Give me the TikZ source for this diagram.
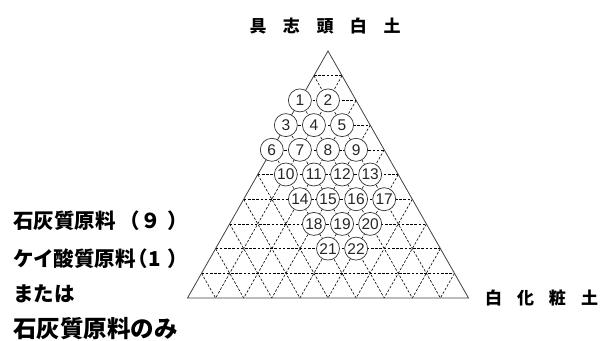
\documentclass[tikz,border=0pt]{standalone}
\usepackage{fontspec}
\setmainfont{Liberation Sans}
\newfontfamily\jp{Noto Sans CJK JP}
\tikzset{
  gridline/.style={draw=black, line width=0.6pt, dash pattern=on 2.6pt off 1.6pt},
  tri/.style={draw=black!75, line width=0.8pt},
  num/.style={circle, draw=black!80, fill=white, line width=0.7pt, minimum size=23pt, inner sep=0pt,
    font=\fontsize{15.5}{15.5}\selectfont, text=black!85},
  lbl/.style={font=\jp\bfseries\fontsize{20.5}{20.5}\selectfont, inner sep=0pt},
  biglbl/.style={font=\jp\bfseries\fontsize{23.5}{23.5}\selectfont, inner sep=0pt},
  axislbl/.style={font=\jp\bfseries\fontsize{17}{17}\selectfont, inner sep=0pt}
}
\begin{document}
\begin{tikzpicture}[x=1pt,y=-1pt]
\useasboundingbox (0,0) rectangle (601,340);
% triangle corners
\coordinate (A) at (328,51);
\coordinate (BL) at (187.5,298);
\coordinate (BR) at (468.5,298);
% dashed grid
\foreach \k in {1,...,9}{
  \draw[gridline] ({328-14.05*\k},{51+24.7*\k}) -- ({328+14.05*\k},{51+24.7*\k});
  \draw[gridline] ({328+14.05*\k},{51+24.7*\k}) -- ({328+28.1*(\k-5)},298);
  \draw[gridline] ({328-14.05*\k},{51+24.7*\k}) -- ({328+28.1*(5-\k)},298);
}
\draw[tri] (A) -- (BL) -- (BR) -- cycle;
% numbered circles
\foreach \k/\j/\n in {2/0/1,2/1/2,3/0/3,3/1/4,3/2/5,4/0/6,4/1/7,4/2/8,4/3/9,
  5/1/10,5/2/11,5/3/12,5/4/13,6/2/14,6/3/15,6/4/16,6/5/17,7/3/18,7/4/19,7/5/20,8/4/21,8/5/22}{
  \node[num] (c\n) at ({328+28.1*(\j-\k/2)},{51+24.7*\k}) {\n};
}
% labels
\node[axislbl] (top) at (325,26) {具\hspace{16.5pt}志\hspace{16.5pt}頭\hspace{16.5pt}白\hspace{16.5pt}土};
\node[axislbl] (right) at (541.5,298) {白\hspace{15pt}化\hspace{15pt}粧\hspace{15pt}土};
\node[lbl, anchor=west] (l1) at (13,220.5) {石灰質原料\hspace{4pt}（９\hspace{7pt}）};
\node[lbl, anchor=west] (l2) at (13,259) {ケイ酸質原料\hspace{-8pt}（1\hspace{7pt}）};
\node[lbl, anchor=west] (l3) at (13,294) {または};
\node[biglbl, anchor=west] (l4) at (13,328.5) {石灰質原料のみ};
\end{tikzpicture}
\end{document}
